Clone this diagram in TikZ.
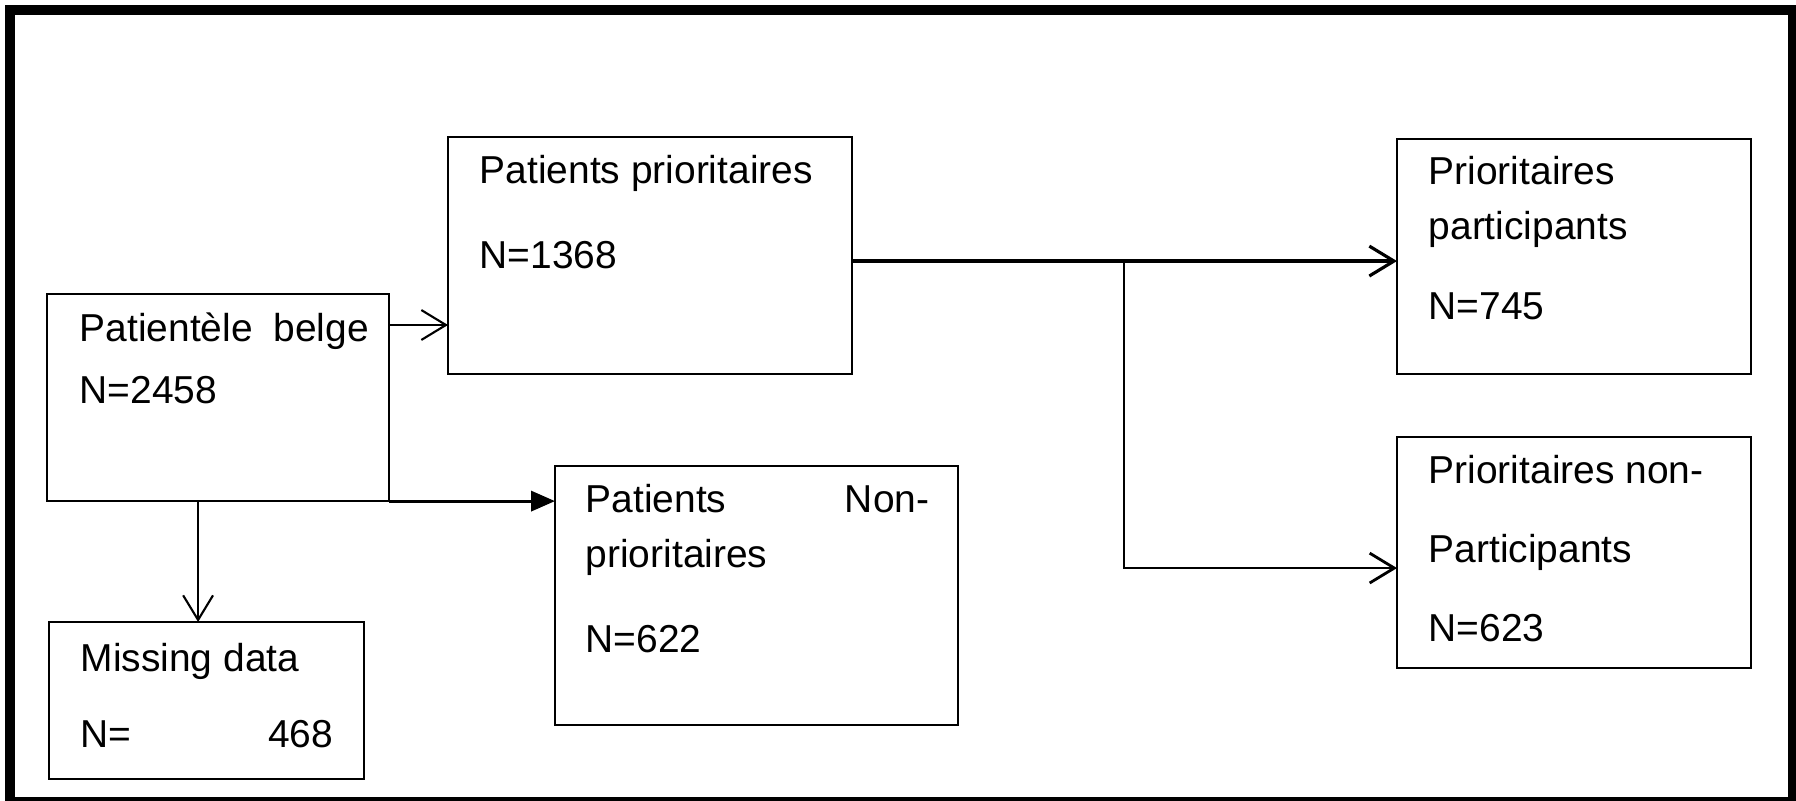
\documentclass[tikz,border=0pt]{standalone}
\usepackage{fontspec}
\setmainfont{Liberation Sans}
\usetikzlibrary{arrows.meta}

\begin{document}
\begin{tikzpicture}[x=0.01cm, y=-0.01cm,
    every node/.style={font=\fontsize{11.07pt}{13pt}\selectfont},
    box/.style={draw, line width=0.6pt, inner sep=0pt, outer sep=0pt, anchor=north west},
    lbl/.style={inner sep=0pt, anchor=base west},
    openarrow/.style={line width=0.6pt, -{Straight Barb[length=7pt, width=8.5pt]}},
    fillarrow/.style={line width=0.9pt, -{Triangle[length=6.8pt, width=5.7pt]}}]
    \useasboundingbox (0,0) rectangle (1796,801);
    \draw[line width=0.1cm] (10,10) rectangle (1793,802);
    % Draw boxes
    \node[box, minimum width=3.42cm, minimum height=2.07cm] (belge) at (47,294) {};
    \node[box, minimum width=4.04cm, minimum height=2.37cm] (prio) at (448,137) {};
    \node[box, minimum width=4.03cm, minimum height=2.59cm] (nonprio) at (555,466) {};
    \node[box, minimum width=3.15cm, minimum height=1.57cm] (missing) at (49,622) {};
    \node[box, minimum width=3.54cm, minimum height=2.35cm] (part) at (1397,139) {};
    \node[box, minimum width=3.54cm, minimum height=2.31cm] (nonpart) at (1397,437) {};
    % Draw labels
    \foreach [count=\i] \x/\y/\t in {79/342/{Patientèle\hspace{0.1cm} belge}, 79/404/{N=2458},
        479/184/{Patients prioritaires}, 479/269/{N=1368},
        585/513/{Patients}, 585/568/{prioritaires}, 585/653/{N=622},
        80/672/{Missing data}, 80/748/{N=},
        1428/185/{Prioritaires}, 1428/240/{participants}, 1428/320/{N=745},
        1428/484/{Prioritaires non-}, 1428/563/{Participants}, 1428/642/{N=623}}
        \node[lbl] (t\i) at (\x,\y) {\t};
    \node[lbl, anchor=base east] (non) at (930,513) {Non-};
    \node[lbl, anchor=base east] (miss) at (334,748) {468};
    % Draw connectors
    \coordinate (b1) at ([yshift=-0.31cm]belge.north east);
    \coordinate (b2) at ([xshift=1.51cm]belge.south west);
    \coordinate (p1) at ([yshift=-0.055cm]prio.east);
    \coordinate (fork) at (1124,261);
    \coordinate (q1) at ([yshift=-0.155cm]nonpart.west);
    \draw[openarrow] (b1) -- (b1 -| prio.west);
    \draw[fillarrow] (belge.south east) -- (belge.south east -| nonprio.west);
    \draw[openarrow] (b2) -- (b2 |- missing.north);
    \draw[openarrow, line width=0.9pt] (p1) -- (p1 -| part.west);
    \draw[openarrow, line width=0.8pt] (fork) |- (q1);
\end{tikzpicture}
\end{document}
